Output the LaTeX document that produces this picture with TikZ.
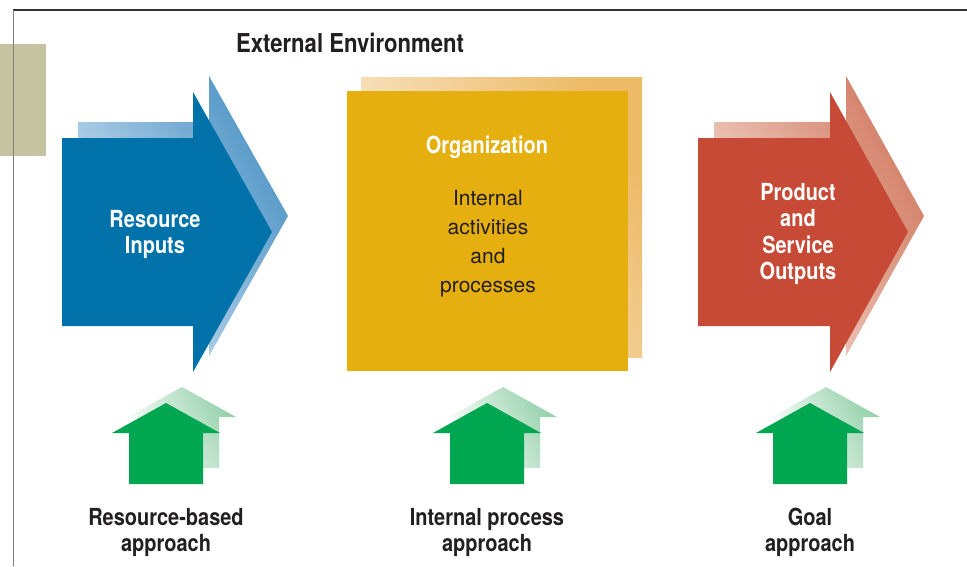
\documentclass[tikz,border=0pt]{standalone}
\usepackage{fontspec}
\setmainfont{TeX Gyre Heros}[FakeStretch=0.85]
\newfontfamily\orgfont{TeX Gyre Heros}[FakeStretch=1.0]
\definecolor{bluemain}{HTML}{0072AA}
\definecolor{bluelight}{HTML}{CFE2F1}
\definecolor{bluedark}{HTML}{4F95C6}
\definecolor{orgmain}{HTML}{E5AF0F}
\definecolor{orglight}{HTML}{FBEEDA}
\definecolor{orgdark}{HTML}{EDBB68}
\definecolor{redmain}{HTML}{C64A35}
\definecolor{redlight}{HTML}{F4DDD2}
\definecolor{reddark}{HTML}{D27B63}
\definecolor{greenmain}{HTML}{00A650}
\definecolor{greenlight}{HTML}{FFFFFF}
\definecolor{greendark}{HTML}{95D1AB}
\definecolor{tanbox}{HTML}{C5C29F}
\definecolor{txtdark}{HTML}{231F20}
\newcommand\mylines[1]{\begin{tabular}[t]{@{}c@{}}#1\end{tabular}}
\begin{document}
\begin{tikzpicture}[x=1pt,y=-1pt,
  boldlbl/.style={inner sep=0pt, anchor=base, font=\bfseries\fontsize{23.5}{26.5}\selectfont},
  whitelbl/.style={boldlbl, text=white},
  darklbl/.style={boldlbl, text=txtdark},
  shadowshade/.style={shading=axis, top color=#1dark, bottom color=#1light, shading angle=-60},
]
\useasboundingbox (0,0) rectangle (967,566);
\fill[white] (0,0) rectangle (967,566);
% frame
\fill[tanbox] (0,44) rectangle (46,156);
\draw[line width=1.4pt, black!80] (13,10) -- (967,10);
\draw[line width=0.9pt, black!50] (13,10) -- (13,566);
\node[darklbl, font=\bfseries\fontsize{26}{30}\selectfont] (env) at (350,52) {External Environment};
% blue arrow
\shade[shadowshade=blue] (78,122) -- (209,122) -- (209,76) -- (288,216) -- (209,356) -- (209,310) -- (78,310) -- cycle;
\fill[bluemain] (62,138) -- (193,138) -- (193,92) -- (272,232) -- (193,372) -- (193,326) -- (62,326) -- cycle;
\node[whitelbl] (inputs) at (155,227) {\mylines{Resource\\Inputs}};
% organization
\shade[shadowshade=org] (361,77) rectangle (642,357);
\fill[orgmain] (347,91) rectangle (628,371);
\node[whitelbl] (org) at (487,153) {Organization};
\node[inner sep=0pt, anchor=base, text=txtdark, font=\orgfont\fontsize{21}{29}\selectfont] (internal) at (488,205) {\mylines{Internal\\activities\\and\\processes}};
% red arrow
\shade[shadowshade=red] (714,122) -- (846,122) -- (846,76) -- (924,216) -- (846,356) -- (846,310) -- (714,310) -- cycle;
\fill[redmain] (698,138) -- (830,138) -- (830,92) -- (908,232) -- (830,372) -- (830,326) -- (698,326) -- cycle;
\node[whitelbl] (outputs) at (798,200) {\mylines{Product\\and\\Service\\Outputs}};
% green house arrows
\foreach \c in {166,487,810}{
  \begin{scope}[shift={(\c,0)}]
    \shade[shadowshade=green] (16,387) -- (70,417) -- (53,417) -- (53,468) -- (-21,468) -- (-21,417) -- (-38,417) -- cycle;
    \fill[greenmain] (0,403) -- (54,433) -- (37,433) -- (37,484) -- (-37,484) -- (-37,433) -- (-54,433) -- cycle;
  \end{scope}
}
\node[darklbl] (rb) at (166,525) {\mylines{Resource-based\\approach}};
\node[darklbl] (ip) at (487,525) {\mylines{Internal process\\approach}};
\node[darklbl] (goal) at (810,525) {\mylines{Goal\\approach}};
\end{tikzpicture}
\end{document}
